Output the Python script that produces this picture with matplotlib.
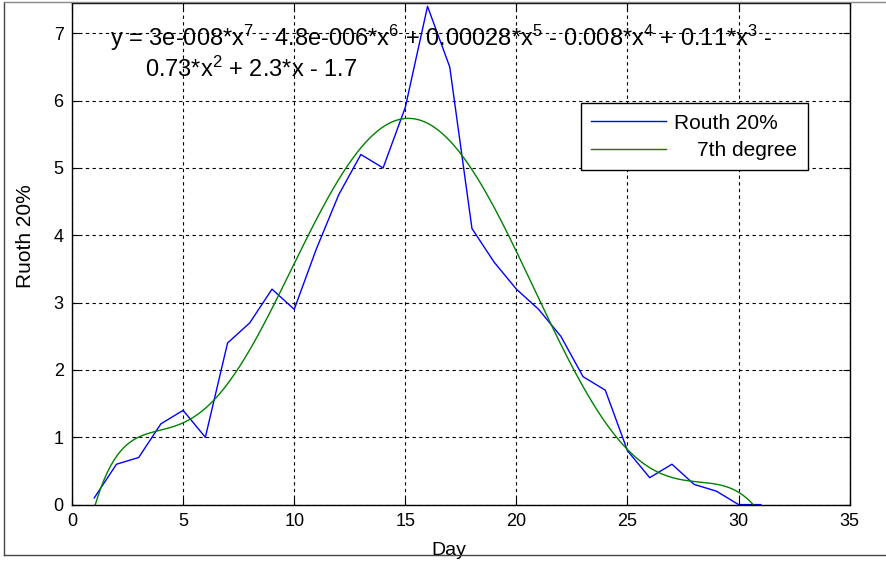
import numpy as np
import matplotlib
matplotlib.use('Agg')
import matplotlib.pyplot as plt
from matplotlib.lines import Line2D

plt.rcParams['font.family'] = ['Liberation Sans', 'DejaVu Sans']
plt.rcParams['mathtext.default'] = 'regular'

# data
day = np.arange(1, 32)
routh = [0.1, 0.6, 0.7, 1.2, 1.4, 1.0, 2.4, 2.7, 3.2, 2.9,
         3.8, 4.6, 5.2, 5.0, 5.9, 7.4, 6.5, 4.1, 3.6, 3.2,
         2.9, 2.5, 1.9, 1.7, 0.8, 0.4, 0.6, 0.3, 0.2, 0.0, 0.0]
x_ticks = [0, 5, 10, 15, 20, 25, 30, 35]
y_ticks = [0, 1, 2, 3, 4, 5, 6, 7]
eq_line1 = ('y = 3e-008*x$^{7}$ - 4.8e-006*x$^{6}$ + 0.00028*x$^{5}$'
            ' - 0.008*x$^{4}$ + 0.11*x$^{3}$ -')
eq_line2 = '0.73*x$^{2}$ + 2.3*x - 1.7'

# 7th degree fit, as the basic fitting tool does
fit = np.polynomial.Polynomial.fit(day, routh, 7)
xf = np.linspace(day[0], day[-1], 400)

fig = plt.figure(figsize=(8.86, 5.63), dpi=100)
ax = fig.add_axes([0.0813, 0.1037, 0.8777, 0.891])

ax.plot(day, routh, color=(0, 0, 1), lw=1.0, label='Routh 20%')
ax.plot(xf, fit(xf), color=(0, 0.5, 0), lw=1.0, label='    7th degree')

ax.set_xlim(0, 35)
ax.set_ylim(0, 7.45)
ax.set_xticks(x_ticks)
ax.set_yticks(y_ticks)
ax.tick_params(direction='in', top=True, right=True, length=5, width=0.8,
               labelsize=13, pad=6)
ax.grid(True, color='black', linestyle=(0, (3, 3)), linewidth=0.8)
for s in ax.spines.values():
    s.set_linewidth(1.0)
    s.set_color('black')

ax.set_xlabel('Day', fontsize=14, labelpad=3)
ax.set_ylabel('Ruoth 20%', fontsize=15, labelpad=8)
ax.yaxis.set_label_coords(-0.047, 0.535)
ax.xaxis.set_label_coords(0.485, -0.075)

ax.text(1.7, 6.93, eq_line1, fontsize=17, va='center', ha='left')
ax.text(3.3, 6.47, eq_line2, fontsize=17, va='center', ha='left')

leg = ax.legend(loc='upper right', bbox_to_anchor=(0.946, 0.80), fontsize=15,
                handlelength=3.6, fancybox=False, framealpha=1,
                borderaxespad=0, borderpad=0.5, labelspacing=0.4,
                handletextpad=0.4)
leg.get_frame().set_edgecolor('black')
leg.get_frame().set_linewidth(1.0)

# outer frame of the original figure window
fig.add_artist(Line2D([0.0045, 0.0045], [0.014, 0.997], color='#444444', lw=1,
                      transform=fig.transFigure))
fig.add_artist(Line2D([0.0045, 1.0], [0.014, 0.014], color='#444444', lw=1,
                      transform=fig.transFigure))
fig.add_artist(Line2D([0.0045, 1.0], [0.997, 0.997], color='#888888', lw=1,
                      transform=fig.transFigure))

fig.savefig('out.png', dpi=100)
